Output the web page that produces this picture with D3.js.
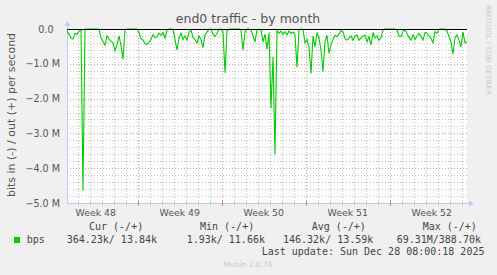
<!DOCTYPE html>
<html>
<head>
<meta charset="utf-8">
<script src="https://cdn.jsdelivr.net/npm/d3@7"></script>
<style>
body { margin: 0; background: #f0f0f0; }
svg { display: block; font-family: "DejaVu Sans", sans-serif; }
.mono { font-family: "DejaVu Sans Mono", monospace; }
</style>
</head>
<body>
<svg id="chart" width="497" height="275"></svg>
<script>
// bits in per second (drawn negative), in k, one value every 4 hours
var inValues = [
  60, 150, 260, 290, 130, 150, 60, 20, 4640, 10,
  5, 5, 5, 5, 5, 5,
  10, 260, 350, 460, 200, 290, 350, 400, 620, 450, 200, 480, 860, 20,
  5, 5, 5, 5, 5, 5,
  100, 280, 320, 420, 440, 380, 300, 160, 250, 220, 120, 180, 100, 260, 30,
  5, 5,
  10, 300, 600, 260, 120, 300, 200, 320, 100, 20, 250, 300, 400, 200, 300, 540, 150, 90, 10, 5, 150, 220, 120, 10, 5, 80, 1260, 60,
  5, 5, 5, 5, 5, 5,
  20, 600, 80, 5, 5, 30, 200, 370, 20, 5, 40, 370, 150, 580, 100, 2280, 800, 3600, 50,
  120, 60, 150, 80, 170, 60, 130, 90, 180, 1100, 30, 5, 10,
  400, 300, 520, 1280, 200, 520, 100, 260, 600, 1220, 360, 180, 700, 450, 300, 180,
  220, 150, 40, 80, 280, 320, 260, 200, 320, 200, 170, 320, 260, 200, 180, 370, 220, 460, 100, 260, 200, 320, 250, 30,
  5, 5, 5, 5, 5, 5,
  30, 200, 220, 60, 20,
  130, 250, 320, 170, 300, 200, 130, 220, 320, 100, 120, 200, 270, 400, 80, 120, 10,
  5, 5, 5,
  60, 220, 370, 720, 260, 170, 320, 510, 80, 400, 364
];
var stepHours = 4;
var startTime = new Date(Date.UTC(2025, 10, 25, 2, 30));
var endTime = new Date(Date.UTC(2025, 11, 28, 10, 30));

var yTicks = [0, -1e6, -2e6, -3e6, -4e6, -5e6];
var legendHeads = ["Cur (-/+)", "Min (-/+)", "Avg (-/+)", "Max (-/+)"];
var legendValues = ["364.23k/ 13.84k", "1.93k/ 11.66k", "146.32k/ 13.59k", "69.31M/388.70k"];

var plotL = 67, plotR = 467, plotT = 29, plotB = 203;
var svg = d3.select("#chart");

var x = d3.scaleUtc().domain([startTime, endTime]).range([plotL, plotR]);
var y = d3.scaleLinear().domain([-5e6, 0]).range([plotB, plotT]);

// plot background
svg.append("rect").attr("x", plotL).attr("y", plotT)
  .attr("width", plotR - plotL).attr("height", plotB - plotT).attr("fill", "#fff");

// grid
var minorCol = "#c2c2c2", majorCol = "#e49494";
var grid = svg.append("g").attr("shape-rendering", "crispEdges");
var minorY = d3.range(0, -5e6, -2e5).filter(v => v % 1e6 != 0);
grid.selectAll(".hmin").data(minorY).join("line")
  .attr("x1", plotL).attr("x2", plotR)
  .attr("y1", d => Math.round(y(d)) + 0.5).attr("y2", d => Math.round(y(d)) + 0.5)
  .attr("stroke", minorCol).attr("stroke-dasharray", "1,2");
var days = d3.utcDay.range(startTime, endTime).filter(d => d.getUTCDay() != 1);
grid.selectAll(".vmin").data(days).join("line")
  .attr("x1", d => Math.round(x(d)) + 0.5).attr("x2", d => Math.round(x(d)) + 0.5)
  .attr("y1", plotT).attr("y2", plotB)
  .attr("stroke", minorCol).attr("stroke-dasharray", "1,2");
grid.selectAll(".hmaj").data(yTicks.slice(1, 5)).join("line")
  .attr("x1", plotL).attr("x2", plotR)
  .attr("y1", d => Math.round(y(d)) + 0.5).attr("y2", d => Math.round(y(d)) + 0.5)
  .attr("stroke", majorCol).attr("stroke-dasharray", "1,2");
var weeks = d3.utcMonday.range(startTime, endTime);
grid.selectAll(".vmaj").data(weeks).join("line")
  .attr("x1", d => Math.round(x(d)) + 0.5).attr("x2", d => Math.round(x(d)) + 0.5)
  .attr("y1", plotT).attr("y2", plotB)
  .attr("stroke", majorCol).attr("stroke-dasharray", "1,2");

// axes
var axisCol = "#c4c8f0";
svg.append("line").attr("x1", plotL + 0.5).attr("x2", plotL + 0.5).attr("y1", 24).attr("y2", plotB)
  .attr("stroke", axisCol);
svg.append("line").attr("x1", plotL).attr("x2", 471).attr("y1", plotB + 0.5).attr("y2", plotB + 0.5)
  .attr("stroke", axisCol);
svg.append("path").attr("d", "M64.5,26 L67.5,21 L70.5,26 Z").attr("fill", axisCol);
svg.append("path").attr("d", "M469,200.5 L474,203.5 L469,206.5 Z").attr("fill", axisCol);
svg.selectAll(".dtick").data(days).join("line")
  .attr("x1", d => Math.round(x(d)) + 0.5).attr("x2", d => Math.round(x(d)) + 0.5)
  .attr("y1", plotB - 1).attr("y2", plotB + 2).attr("stroke", "#bbb");
svg.selectAll(".wtick").data(weeks).join("line")
  .attr("x1", d => Math.round(x(d)) + 0.5).attr("x2", d => Math.round(x(d)) + 0.5)
  .attr("y1", plotB - 2).attr("y2", plotB + 3).attr("stroke", "#e08080");

// y tick labels
svg.selectAll(".ylab").data(yTicks).join("text")
  .attr("x", d => d == 0 ? 53.5 : 60).attr("y", d => y(d) + 3.5)
  .attr("text-anchor", "end").attr("font-size", "9.6px").attr("fill", "#555")
  .text(d => d == 0 ? "0.0" : d3.format(".1f")(d / 1e6) + " M");

// week labels, centred in the week
var labelWeeks = d3.utcMonday.range(d3.utcMonday.floor(startTime), endTime)
  .filter(d => x(d3.utcHour.offset(d, 84)) < plotR);
svg.selectAll(".wlab").data(labelWeeks).join("text")
  .attr("x", d => x(d3.utcHour.offset(d, 84))).attr("y", 216)
  .attr("text-anchor", "middle").attr("font-size", "9.4px").attr("fill", "#555")
  .text(d => "Week " + d3.utcFormat("%V")(d));

// data line
var line = d3.line()
  .x((d, i) => x(d3.utcHour.offset(startTime, i * stepHours)))
  .y(d => y(-d * 1000));
svg.append("path").datum(inValues).attr("d", line)
  .attr("fill", "none").attr("stroke", "#00cc00").attr("stroke-width", 1.1);

// zero line
svg.append("line").attr("x1", plotL).attr("x2", plotR).attr("y1", plotT + 0.5).attr("y2", plotT + 0.5)
  .attr("stroke", "#000").attr("stroke-width", 1.2);

// title and labels
svg.append("text").attr("x", 248).attr("y", 23).attr("text-anchor", "middle")
  .attr("font-size", "12.5px").attr("fill", "#555").text("end0 traffic - by month");
svg.append("text").attr("transform", "translate(15,115) rotate(-90)").attr("text-anchor", "middle")
  .attr("font-size", "11px").attr("fill", "#555").text("bits in (-) / out (+) per second");
svg.append("text").attr("transform", "translate(486,5) rotate(90)").attr("text-anchor", "start")
  .attr("font-size", "7px").attr("fill", "#c8c8c8").text("RRDTOOL / TOBI OETIKER");

// legend
var headX = [89, 200, 311.7, 422.7];
var valX = [66.7, 186.7, 283, 396.7];
var lg = svg.append("g").attr("class", "mono").attr("font-size", "10px").attr("fill", "#444")
  .style("white-space", "pre");
lg.selectAll(".hd").data(legendHeads).join("text")
  .attr("x", (d, i) => headX[i]).attr("y", 230).text(d => d);
svg.append("rect").attr("x", 14).attr("y", 237).attr("width", 6).attr("height", 6).attr("fill", "#00cc00");
lg.append("text").attr("x", 26.7).attr("y", 243).text("bps");
lg.selectAll(".vl").data(legendValues).join("text")
  .attr("x", (d, i) => valX[i]).attr("y", 243).text(d => d);
lg.append("text").attr("x", 261.7).attr("y", 255).text("Last update: Sun Dec 28 08:00:18 2025");
svg.append("text").attr("x", 248).attr("y", 266.5).attr("text-anchor", "middle")
  .attr("font-size", "7.5px").attr("fill", "#c8c8c8").text("Munin 2.0.76");
</script>
</body>
</html>
